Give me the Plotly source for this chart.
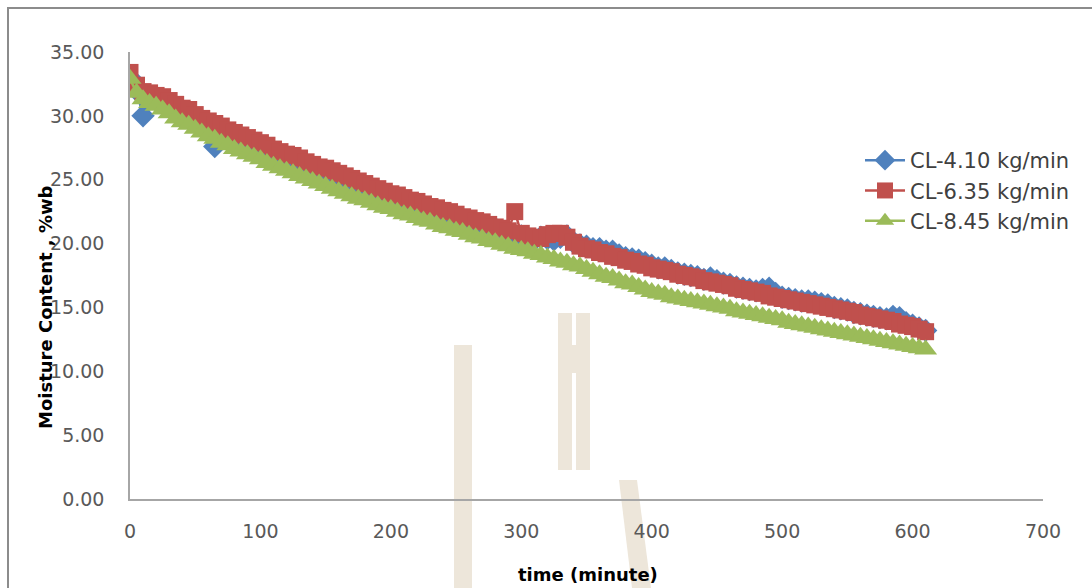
import plotly.graph_objects as go

# Sampling times (minutes)
time_min = [
    0, 5, 10, 15, 20, 25, 30, 35, 40, 45, 50, 55, 60, 65, 70, 75, 80, 85, 90, 95,
    100, 105, 110, 115, 120, 125, 130, 135, 140, 145, 150, 155, 160, 165, 170, 175,
    180, 185, 190, 195, 200, 205, 210, 215, 220, 225, 230, 235, 240, 245, 250, 255,
    260, 265, 270, 275, 280, 285, 290, 295, 300, 305, 310, 315, 320, 325, 330, 335,
    340, 345, 350, 355, 360, 365, 370, 375, 380, 385, 390, 395, 400, 405, 410, 415,
    420, 425, 430, 435, 440, 445, 450, 455, 460, 465, 470, 475, 480, 485, 490, 495,
    500, 505, 510, 515, 520, 525, 530, 535, 540, 545, 550, 555, 560, 565, 570, 575,
    580, 585, 590, 595, 600, 605, 610,
]

# Moisture content (%wb), CL-4.10 kg/min
mc_410 = [
    33.0, 32.0, 30.0, 31.3, 31.2, 31.0, 30.8, 30.5, 30.2, 30.0, 29.6, 29.3, 29.0, 27.6,
    28.7, 28.5, 28.3, 28.1, 27.9, 27.7, 27.5, 27.3, 27.1, 26.9, 26.7, 26.5, 26.3, 26.1,
    25.9, 25.7, 25.5, 25.4, 25.2, 25.0, 24.8, 24.6, 24.4, 24.2, 24.0, 23.8, 23.7, 23.5,
    23.3, 23.2, 23.0, 22.8, 22.7, 22.5, 22.4, 22.2, 22.1, 21.9, 21.8, 21.6, 21.5, 21.3,
    21.2, 21.0, 20.9, 20.7, 20.6, 20.4, 20.3, 20.5, 20.4, 20.3, 20.5, 20.6, 20.1, 19.9,
    19.8, 19.6, 19.6, 19.4, 19.4, 19.1, 18.9, 18.8, 18.7, 18.5, 18.3, 18.1, 18.1, 17.9,
    17.7, 17.6, 17.5, 17.4, 17.2, 17.3, 17.1, 16.9, 16.8, 16.6, 16.5, 16.4, 16.3, 16.4,
    16.5, 16.1, 15.8, 15.7, 15.6, 15.5, 15.5, 15.4, 15.3, 15.2, 15.0, 14.9, 14.8, 14.6,
    14.5, 14.4, 14.3, 14.2, 14.1, 14.3, 14.2, 13.8, 13.6, 13.4, 13.2,
]

# Moisture content (%wb), CL-6.35 kg/min
mc_635 = [
    33.4, 32.4, 31.9, 31.8, 31.6, 31.5, 31.2, 30.9, 30.6, 30.5, 30.1, 29.8, 29.6, 29.4,
    29.2, 28.9, 28.7, 28.5, 28.3, 28.1, 27.9, 27.7, 27.4, 27.2, 27.0, 26.9, 26.7, 26.4,
    26.2, 26.0, 25.9, 25.7, 25.5, 25.3, 25.1, 24.9, 24.7, 24.5, 24.3, 24.1, 23.9, 23.8,
    23.6, 23.4, 23.3, 23.1, 22.9, 22.8, 22.6, 22.5, 22.3, 22.1, 22.0, 21.8, 21.7, 21.5,
    21.3, 21.2, 21.0, 22.5, 20.8, 20.6, 20.5, 20.4, 20.7, 20.8, 20.8, 20.5, 20.1, 19.8,
    19.6, 19.5, 19.3, 19.2, 19.0, 18.9, 18.7, 18.6, 18.4, 18.3, 18.1, 18.0, 17.9, 17.8,
    17.6, 17.5, 17.4, 17.3, 17.1, 17.0, 16.9, 16.8, 16.7, 16.5, 16.4, 16.3, 16.2, 16.1,
    15.9, 15.8, 15.7, 15.6, 15.5, 15.4, 15.3, 15.2, 15.1, 15.0, 14.9, 14.8, 14.7, 14.6,
    14.4, 14.3, 14.2, 14.1, 14.0, 13.9, 13.7, 13.6, 13.5, 13.3, 13.1,
]

# Moisture content (%wb), CL-8.45 kg/min
mc_845 = [
    32.9, 31.8, 31.3, 31.0, 30.8, 30.5, 30.2, 29.8, 29.5, 29.3, 29.0, 28.7, 28.4, 28.2,
    27.9, 27.7, 27.4, 27.2, 27.0, 26.8, 26.6, 26.3, 26.1, 25.9, 25.7, 25.5, 25.3, 25.1,
    24.9, 24.7, 24.5, 24.3, 24.1, 23.9, 23.7, 23.5, 23.4, 23.2, 23.0, 22.8, 22.7, 22.5,
    22.3, 22.2, 22.0, 21.8, 21.7, 21.5, 21.3, 21.2, 21.0, 20.9, 20.7, 20.5, 20.4, 20.2,
    20.1, 19.9, 19.8, 19.6, 19.5, 19.4, 19.2, 19.1, 18.9, 18.8, 18.6, 18.5, 18.3, 18.2,
    18.0, 17.8, 17.6, 17.4, 17.3, 17.1, 16.9, 16.8, 16.6, 16.4, 16.2, 16.1, 16.0, 15.8,
    15.7, 15.6, 15.5, 15.4, 15.3, 15.2, 15.1, 15.0, 14.9, 14.7, 14.6, 14.5, 14.4, 14.3,
    14.2, 14.1, 14.0, 13.8, 13.7, 13.6, 13.5, 13.4, 13.3, 13.2, 13.1, 13.0, 12.9, 12.8,
    12.7, 12.6, 12.5, 12.4, 12.3, 12.2, 12.1, 12.0, 11.9, 11.8, 11.7,
]

series_names = ["CL-4.10 kg/min", "CL-6.35 kg/min", "CL-8.45 kg/min"]
x_ticks = [0, 100, 200, 300, 400, 500, 600, 700]
y_ticks = [0, 5, 10, 15, 20, 25, 30, 35]

FONT = "'DejaVu Sans', sans-serif"
BLUE, RED, GREEN = "#4F81BD", "#C0504D", "#9BBB59"
TAN = "#EDE6DA"

fig = go.Figure()
styles = [
    (mc_410, BLUE, "diamond", 18),
    (mc_635, RED, "square", 17),
    (mc_845, GREEN, "triangle-up", 20),
]
for i, (vals, col, sym, size) in enumerate(styles):
    fig.add_trace(go.Scatter(
        x=time_min, y=vals, mode="lines+markers", name=series_names[i],
        legendgroup=f"g{i}",
        line=dict(color=col, width=2.5),
        marker=dict(symbol=sym, size=size, color=col, line=dict(width=0)),
    ))

# Plot area: 130..1043 px wide, 52..499 px tall in a 1092x588 page
L, R, T, B = 130, 49, 52, 89
W, H = 1092 - L - R, 588 - T - B

def px_x(p):
    return (p - L) / W

def px_y(p):
    return (588 - B - p) / H

def tan_rect(x0, y0, x1, y1, color=TAN):
    return dict(type="rect", xref="paper", yref="paper",
                x0=px_x(x0), x1=px_x(x1), y0=px_y(y1), y1=px_y(y0),
                line=dict(width=0), fillcolor=color, layer="below")

def tan_poly(points, color=TAN):
    path = "M " + " L ".join(f"{px_x(a)},{px_y(b)}" for a, b in points) + " Z"
    return dict(type="path", xref="paper", yref="paper", path=path,
                line=dict(width=0), fillcolor=color, layer="below")

# faint background emblem
emblem = [
    tan_rect(454, 345, 472, 588),
    tan_rect(558, 313, 590, 470),
    tan_rect(572, 313, 576, 345, "white"),
    tan_rect(572, 373, 576, 470, "white"),
    tan_poly([(619, 480), (637, 480), (651, 588), (632, 588)]),
]

fig.update_layout(
    width=1092, height=588,
    margin=dict(l=L, r=R, t=T, b=B),
    paper_bgcolor="white", plot_bgcolor="white",
    font=dict(family=FONT, color="#595959", size=19),
    showlegend=True,
    legend=dict(
        x=px_x(860), y=px_y(140), xanchor="left", yanchor="top",
        bgcolor="rgba(0,0,0,0)", font=dict(size=21, color="#404040"),
        traceorder="grouped", tracegroupgap=0, itemwidth=40,
    ),
    xaxis=dict(
        range=[0, 700], tickvals=x_ticks, ticktext=[str(v) for v in x_ticks],
        showgrid=False, zeroline=False, showline=True, linecolor="#A6A6A6",
        linewidth=1.5, ticks="", ticklabelstandoff=14,
        tickfont=dict(size=19, color="#595959"),
    ),
    yaxis=dict(
        range=[0, 35], tickvals=y_ticks, ticktext=[f"{v:.2f}" for v in y_ticks],
        showgrid=False, zeroline=False, showline=True, linecolor="#A6A6A6",
        linewidth=1.5, ticks="", ticklabelstandoff=20,
        tickfont=dict(size=19, color="#595959"),
    ),
    annotations=[
        dict(text="<b>Moisture Content , %wb</b>", xref="paper", yref="paper",
             x=px_x(45), y=px_y(307), textangle=-90, showarrow=False,
             font=dict(size=18, color="#000000", family=FONT),
             xanchor="center", yanchor="middle"),
        dict(text="<b>time (minute)</b>", xref="paper", yref="paper",
             x=px_x(588), y=px_y(574), showarrow=False,
             font=dict(size=18, color="#000000", family=FONT),
             xanchor="center", yanchor="middle"),
    ],
    shapes=emblem + [
        dict(type="rect", xref="paper", yref="paper",
             x0=px_x(8), x1=px_x(1100), y0=px_y(600), y1=px_y(8),
             line=dict(color="#8C8C8C", width=2), fillcolor="rgba(0,0,0,0)",
             layer="below"),
    ],
)

fig.write_html("out.html")
